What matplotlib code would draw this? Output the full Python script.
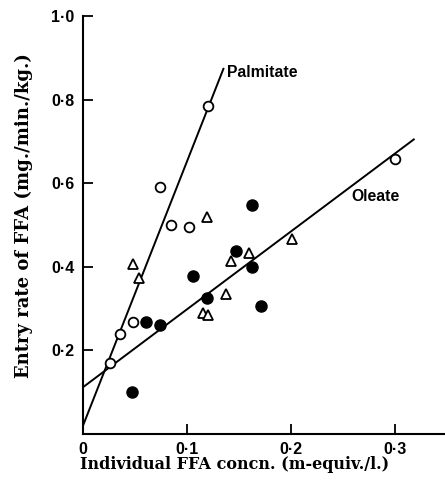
import matplotlib
matplotlib.use('Agg')
import matplotlib.pyplot as plt

# ---------------------------------------------------------------------------
# DATA
# ---------------------------------------------------------------------------

# open circles
open_x = [0.026, 0.036, 0.048, 0.074, 0.085, 0.102, 0.120, 0.300]
open_y = [0.169, 0.240, 0.267, 0.590, 0.500, 0.495, 0.786, 0.657]

# filled circles
filled_x = [0.047, 0.061, 0.074, 0.106, 0.119, 0.147, 0.162, 0.162, 0.171]
filled_y = [0.100, 0.267, 0.262, 0.379, 0.326, 0.438, 0.548, 0.400, 0.307]

# open triangles
tri_x = [0.048, 0.054, 0.115, 0.119, 0.120, 0.137, 0.142, 0.160, 0.201]
tri_y = [0.407, 0.374, 0.290, 0.519, 0.286, 0.336, 0.414, 0.434, 0.467]

# fitted lines (end points)
palm_x = [0.0, 0.135]
palm_y = [0.020, 0.874]
oleate_x = [0.0, 0.318]
oleate_y = [0.112, 0.705]

xticks = [0, 0.1, 0.2, 0.3]
xticklabels = ['0', '0·1', '0·2', '0·3']
yticks = [0.2, 0.4, 0.6, 0.8, 1.0]
yticklabels = ['0·2', '0·4', '0·6', '0·8', '1·0']

# ---------------------------------------------------------------------------
# PLOT
# ---------------------------------------------------------------------------

fig = plt.figure(figsize=(4.45, 4.87), dpi=100)
ax = fig.add_axes([0.1865, 0.1088, 0.8135, 0.858])

LW = 1.4
ax.plot(palm_x, palm_y, color='black', lw=LW, zorder=2)
ax.plot(oleate_x, oleate_y, color='black', lw=LW, zorder=2)

ax.plot(open_x, open_y, 'o', ms=7, mfc='white', mec='black', mew=1.3,
        ls='none', zorder=3)
ax.plot(filled_x, filled_y, 'o', ms=8, color='black', ls='none', zorder=3)
ax.plot(tri_x, tri_y, '^', ms=6.5, mfc='white', mec='black', mew=1.3,
        ls='none', zorder=3)

label_font = dict(family='Liberation Sans', fontweight='bold', fontsize=11.3)
ax.text(0.1385, 0.864, 'Palmitate', ha='left', va='center', **label_font)
ax.text(0.258, 0.569, 'Oleate', ha='left', va='center', **label_font)

ax.set_xlim(0, 0.348)
ax.set_ylim(0, 1.0)

ax.spines['top'].set_visible(False)
ax.spines['right'].set_visible(False)
for sp in ('left', 'bottom'):
    ax.spines[sp].set_linewidth(1.5)

ax.set_xticks(xticks)
ax.set_xticklabels(xticklabels)
ax.set_yticks(yticks)
ax.set_yticklabels(yticklabels)
ax.tick_params(direction='in', length=7, width=1.3, pad=6)
for lab in ax.get_xticklabels() + ax.get_yticklabels():
    lab.set_family('Liberation Sans')
    lab.set_fontweight('bold')
    lab.set_fontsize(11.5)
ax.xaxis.get_major_ticks()[0].tick1line.set_visible(False)

ax.set_xlabel('Individual FFA concn. (m-equiv./l.)', family='DejaVu Serif',
              fontweight='bold', fontsize=11.5)
ax.xaxis.set_label_coords(0.42, -0.053)
ax.set_ylabel('Entry rate of FFA (mg./min./kg.)', family='DejaVu Serif',
              fontweight='bold', fontsize=13)
ax.yaxis.set_label_coords(-0.137, 0.524)

fig.savefig('out.png', dpi=100)
